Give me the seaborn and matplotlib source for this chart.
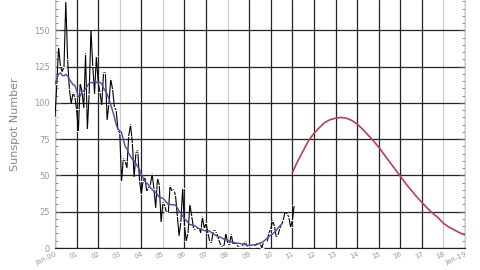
import numpy as np
import pandas as pd
import matplotlib
matplotlib.use("Agg")
import matplotlib.pyplot as plt
import seaborn as sns

# ---- data ----
monthly_ssn = [
    90.1, 112.9, 138.5, 125.5, 121.6, 124.9, 170.1, 130.5, 109.7, 99.4, 106.8, 104.4,   # 2000
    95.6, 80.6, 113.5, 107.7, 96.6, 134.0, 81.8, 106.4, 150.7, 125.5, 106.5, 132.2,     # 2001
    114.1, 107.4, 98.4, 120.7, 120.8, 88.3, 99.6, 116.4, 109.6, 97.5, 95.0, 81.6,       # 2002
    79.5, 46.2, 61.5, 60.0, 55.2, 77.4, 85.0, 72.7, 48.8, 65.6, 67.2, 46.5,             # 2003
    37.2, 46.0, 48.9, 39.3, 41.5, 43.2, 51.1, 40.9, 27.7, 48.0, 43.5, 17.9,             # 2004
    31.3, 29.2, 24.5, 24.2, 42.7, 39.3, 40.1, 36.4, 22.1, 8.5, 18.0, 41.2,              # 2005
    15.3, 4.9, 10.6, 30.2, 22.3, 13.9, 12.2, 12.9, 14.4, 10.5, 21.4, 13.6,              # 2006
    16.9, 10.6, 4.8, 3.7, 11.7, 12.0, 10.0, 6.2, 2.4, 0.9, 1.7, 10.1,                   # 2007
    3.4, 2.1, 9.3, 2.9, 2.9, 3.1, 0.5, 0.5, 1.1, 2.9, 4.1, 0.8,                         # 2008
    1.5, 1.4, 0.7, 1.2, 2.9, 2.6, 3.5, 0.0, 4.2, 4.6, 4.2, 10.6,                        # 2009
    13.1, 18.6, 15.4, 7.9, 8.8, 13.5, 16.1, 19.6, 25.2, 23.5, 21.6, 14.5,               # 2010
    19.0, 29.4,                                                                         # 2011
]

smoothed_ssn = [
    112.9, 116.8, 119.9, 120.8, 119.0, 118.7, 119.8, 118.6, 116.3, 114.5, 112.7, 112.1,
    108.7, 104.0, 104.8, 107.5, 108.6, 109.8, 111.7, 113.6, 114.1, 114.0, 115.6, 114.2,
    113.6, 114.2, 113.1, 110.1, 108.3, 106.2, 102.7, 98.7, 94.6, 90.5, 85.2, 82.0,
    80.8, 79.7, 74.6, 70.1, 68.4, 65.4, 63.1, 61.3, 60.0, 58.3, 56.0, 54.0,
    50.9, 48.5, 45.9, 44.7, 43.6, 41.6, 40.2, 39.2, 38.4, 36.7, 34.9, 34.7,
    34.3, 33.1, 31.5, 30.0, 30.1, 29.7, 29.9, 29.4, 27.8, 25.4, 24.0, 22.1,
    20.0, 19.0, 17.5, 16.1, 16.0, 15.6, 15.2, 14.2, 13.3, 13.0, 12.6, 12.0,
    11.9, 12.0, 11.7, 10.6, 9.8, 9.0, 8.3, 7.6, 7.5, 6.8, 6.1, 5.8,
    5.2, 4.5, 4.2, 4.0, 3.5, 3.4, 3.3, 3.0, 2.8, 2.6, 2.2, 1.8,
    1.7, 1.9, 2.2, 2.2, 2.3, 2.7, 3.3, 3.8, 4.6, 5.7, 6.9, 8.0,
    8.8, 9.6, 10.8, 12.0, 13.8, 15.2, 16.3,
]

pred_years = [2011.0, 2011.25, 2011.5, 2011.75, 2012.0, 2012.25, 2012.5, 2012.75,
              2013.0, 2013.25, 2013.5, 2013.75, 2014.0, 2014.25, 2014.5, 2014.75,
              2015.0, 2015.25, 2015.5, 2015.75, 2016.0, 2016.25, 2016.5, 2016.75,
              2017.0, 2017.25, 2017.5, 2017.75, 2018.0, 2018.25, 2018.5, 2018.75, 2019.0]
pred_ssn = [52, 60, 67, 74, 79, 83, 86.5, 88.5,
            89.5, 90, 89.5, 88, 85.5, 82, 78, 74,
            69.5, 64.5, 59.5, 54.5, 49.5, 44.5, 40, 35.5,
            31.5, 27.5, 24, 21, 17, 14.5, 12.5, 10.5, 9]

tick_years = list(range(2000, 2020))
tick_labels = ["Jan-00"] + [f"{y % 100:02d}" for y in range(2001, 2019)] + ["Jan-19"]

# ---- frames ----
obs = pd.DataFrame({"t": [2000 + i / 12 for i in range(len(monthly_ssn))], "ssn": monthly_ssn})
smo = pd.DataFrame({"t": [2000 + i / 12 for i in range(len(smoothed_ssn))], "ssn": smoothed_ssn})
pred = pd.DataFrame({"t": pred_years, "ssn": pred_ssn})

sns.set_style("white")
plt.rcParams["font.family"] = ["DejaVu Sans"]

fig = plt.figure(figsize=(4.8, 2.7), dpi=100)
ax = fig.add_axes([55 / 480, 22 / 270, 410 / 480, 248 / 270])

sns.lineplot(data=obs, x="t", y="ssn", ax=ax, color="black", lw=0.8,
             marker="_", markersize=3, markeredgewidth=0.8, zorder=3)
sns.lineplot(data=smo, x="t", y="ssn", ax=ax, color="#4b4ba8", lw=1.0, zorder=4)
sns.lineplot(data=pred, x="t", y="ssn", ax=ax, color="#b8404c", lw=1.2, zorder=4)

ax.set_xlim(2000, 2019)
ax.set_ylim(0, 171)
ax.set_xticks(tick_years)
ax.set_xticklabels(tick_labels, rotation=25, ha="right", rotation_mode="anchor",
                   fontsize=5, color="#999999")
ax.set_yticks([0, 25, 50, 75, 100, 125, 150])
ax.set_yticks(np.arange(0, 171, 5), minor=True)
ax.tick_params(axis="y", which="major", labelsize=6, labelcolor="#999999",
               direction="in", length=4, color="#555555", left=True, right=True)
ax.tick_params(axis="y", which="minor", direction="in", length=2.5,
               color="#777777", left=True, right=True)
ax.tick_params(axis="x", direction="in", length=0, pad=2)

ax.grid(True, which="major", color="#222222", lw=0.9)
for i, gl in enumerate(ax.get_xgridlines()):
    if i in (3, 5, 8, 18):
        gl.set_color("#cccccc")

ax.spines["top"].set_visible(False)
ax.spines["left"].set_color("#bbbbbb")
ax.spines["right"].set_color("#cccccc")
ax.spines["bottom"].set_color("#222222")

ax.set_xlabel("")
ax.set_ylabel("Sunspot Number", fontsize=8, color="#888888", labelpad=10)

fig.savefig("out.png", dpi=100)
